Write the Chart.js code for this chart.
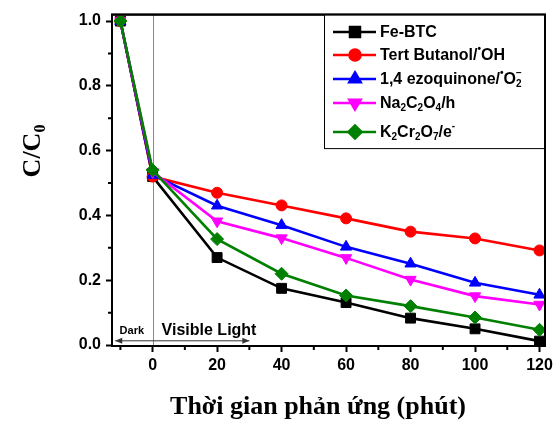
<!DOCTYPE html>
<html>
<head>
<meta charset="utf-8">
<script src="https://cdn.jsdelivr.net/npm/chart.js@4"></script>
<style>
  html, body { margin: 0; padding: 0; background: #fff; }
  canvas { display: block; }
</style>
</head>
<body>
<canvas id="chart" width="557" height="425"></canvas>
<script>
// reaction time (min); -10 is the dark adsorption step
const times = [-10, 0, 20, 40, 60, 80, 100, 120];

const feBtc        = [1.0, 0.52,  0.27,  0.175, 0.131, 0.083, 0.05,  0.012];
const tertButanol  = [1.0, 0.52,  0.47,  0.431, 0.391, 0.35,  0.329, 0.292];
const benzoquinone = [1.0, 0.525, 0.43,  0.37,  0.303, 0.251, 0.192, 0.155];
const oxalate      = [1.0, 0.535, 0.382, 0.33,  0.269, 0.202, 0.151, 0.125];
const dichromate   = [1.0, 0.54,  0.327, 0.22,  0.153, 0.12,  0.085, 0.047];

const xTickValues = [0, 20, 40, 60, 80, 100, 120];
const xMinorTicks = [-10, 10, 30, 50, 70, 90, 110];
const yTickValues = [0, 0.2, 0.4, 0.6, 0.8, 1.0];
const yMinorTicks = [0.1, 0.3, 0.5, 0.7, 0.9];

// legend labels as rich text pieces: [text, 'n' | 'sub' | 'sup']
const legendLabels = [
  [['Fe-BTC', 'n']],
  [['Tert Butanol/', 'n'], ['•', 'sup'], ['OH', 'n']],
  [['1,4 ezoquinone/', 'n'], ['•', 'sup'], ['O', 'n'], ['2', 'sub'], ['−', 'supback']],
  [['Na', 'n'], ['2', 'sub'], ['C', 'n'], ['2', 'sub'], ['O', 'n'], ['4', 'sub'], ['/h', 'n']],
  [['K', 'n'], ['2', 'sub'], ['Cr', 'n'], ['2', 'sub'], ['O', 'n'], ['7', 'sub'], ['/e', 'n'], ['-', 'sup']],
];

const COLORS = ['#000000', '#ff0000', '#0000ff', '#ff00ff', '#008000'];
const STYLES = [
  { pointStyle: 'rect',     radius: 7,   rotation: 0 },
  { pointStyle: 'circle',   radius: 5.5, rotation: 0 },
  { pointStyle: 'triangle', radius: 6.5, rotation: 0 },
  { pointStyle: 'triangle', radius: 6.5, rotation: 180 },
  { pointStyle: 'rectRot',  radius: 6.5, rotation: 0 },
];
const SANS = '"Liberation Sans", Arial, sans-serif';
const SERIF = '"Liberation Serif", "Times New Roman", serif';

const series = [feBtc, tertButanol, benzoquinone, oxalate, dichromate];

const datasets = series.map((vals, i) => ({
  label:            legendLabels[i].map(p => p[0]).join(''),
  data:             times.map((t, k) => ({ x: t, y: vals[k] })),
  borderColor:      COLORS[i],
  backgroundColor:  COLORS[i],
  borderWidth:      2.6,
  pointStyle:       STYLES[i].pointStyle,
  pointRadius:      STYLES[i].radius,
  pointRotation:    STYLES[i].rotation,
  pointBorderWidth: 1,
  tension:          0,
  order:            series.length - i,
}));

// ── rich text helper (subscripts / superscripts) ─────────────────────────
function drawRich(ctx, parts, x, y, size) {
  let lastW = 0;
  parts.forEach(([txt, kind]) => {
    const small = kind !== 'n';
    ctx.font = 'bold ' + (small ? Math.round(size * 0.62) : size) + 'px ' + SANS;
    let dy = 0, px = x;
    if (kind === 'sub') dy = size * 0.28;
    if (kind === 'sup') dy = -size * 0.42;
    if (kind === 'supback') { dy = -size * 0.42; px = x - lastW; }
    ctx.fillText(txt, px, y + dy);
    const w = ctx.measureText(txt).width;
    if (kind !== 'supback') { x += w; lastW = w; }
    else x = Math.max(x, px + w);
  });
}

const decor = {
  id: 'decor',
  beforeDatasetsDraw(chart) {
    const { ctx, chartArea: a, scales: { x, y } } = chart;
    ctx.save();
    // boundary between dark and light periods
    ctx.strokeStyle = '#8a8a8a';
    ctx.lineWidth = 1;
    ctx.beginPath();
    ctx.moveTo(Math.round(x.getPixelForValue(0)) + 0.5, a.top);
    ctx.lineTo(Math.round(x.getPixelForValue(0)) + 0.5, a.bottom);
    ctx.stroke();

    // frame
    ctx.strokeStyle = '#000';
    ctx.lineWidth = 2;
    ctx.strokeRect(a.left, a.top, a.right - a.left, a.bottom - a.top);

    // minor ticks
    ctx.beginPath();
    xMinorTicks.forEach(v => {
      const px = x.getPixelForValue(v);
      ctx.moveTo(px, a.bottom);
      ctx.lineTo(px, a.bottom + 4);
    });
    yMinorTicks.forEach(v => {
      const py = y.getPixelForValue(v);
      ctx.moveTo(a.left - 4, py);
      ctx.lineTo(a.left, py);
    });
    ctx.stroke();

    // Dark / Visible Light arrows
    const ay = y.getPixelForValue(0.013);
    const x0 = x.getPixelForValue(0);
    const xl = x.getPixelForValue(-11.6);
    const xr = x.getPixelForValue(30);
    ctx.strokeStyle = '#333';
    ctx.fillStyle = '#333';
    ctx.lineWidth = 1;
    ctx.beginPath();
    ctx.moveTo(xl, ay); ctx.lineTo(xr, ay);
    ctx.stroke();
    ctx.beginPath();
    ctx.moveTo(xl, ay); ctx.lineTo(xl + 7, ay - 3); ctx.lineTo(xl + 7, ay + 3); ctx.closePath();
    ctx.moveTo(xr, ay); ctx.lineTo(xr - 7, ay - 3); ctx.lineTo(xr - 7, ay + 3); ctx.closePath();
    ctx.fill();

    ctx.fillStyle = '#000';
    ctx.textBaseline = 'alphabetic';
    ctx.textAlign = 'left';
    ctx.font = 'bold 11px ' + SANS;
    ctx.fillText('Dark', x0 - 33, ay - 7);
    ctx.font = 'bold 16px ' + SANS;
    ctx.fillText('Visible Light', x0 + 9, ay - 6);
    ctx.restore();
  },
  afterDatasetsDraw(chart) {
    const { ctx, chartArea: a } = chart;
    ctx.save();

    // legend box
    const lx = 324, ly = a.top, lw = a.right - 324, lh = 134;
    ctx.fillStyle = '#fff';
    ctx.fillRect(lx, ly, lw, lh);
    ctx.strokeStyle = '#000';
    ctx.lineWidth = 1;
    ctx.strokeRect(lx + 0.5, ly, lw, lh);
    ctx.lineWidth = 2;
    ctx.strokeRect(a.left, a.top, a.right - a.left, a.bottom - a.top);

    const rowsY = [32, 55, 79, 103, 132];
    legendLabels.forEach((parts, i) => {
      const ry = rowsY[i];
      ctx.strokeStyle = COLORS[i];
      ctx.lineWidth = 2.6;
      ctx.beginPath();
      ctx.moveTo(333, ry); ctx.lineTo(376, ry);
      ctx.stroke();
      ctx.fillStyle = COLORS[i];
      Chart.helpers.drawPoint(ctx, {
        pointStyle: STYLES[i].pointStyle,
        rotation: STYLES[i].rotation,
        radius: STYLES[i].radius,
        borderWidth: 1,
      }, 355, ry);
      ctx.fillStyle = '#000';
      ctx.textBaseline = 'middle';
      ctx.textAlign = 'left';
      drawRich(ctx, parts, 380, ry + 1, 16);
    });

    // axis titles
    ctx.fillStyle = '#000';
    ctx.textBaseline = 'alphabetic';
    ctx.textAlign = 'center';
    ctx.font = 'bold 26px ' + SERIF;
    ctx.fillText('Thời gian phản ứng (phút)', 318, 414);

    ctx.translate(40, 151);
    ctx.rotate(-Math.PI / 2);
    ctx.textAlign = 'left';
    ctx.font = 'bold 26px ' + SERIF;
    const w1 = ctx.measureText('C/C').width;
    ctx.font = 'bold 16px ' + SERIF;
    const w2 = ctx.measureText('0').width;
    let sx = -(w1 + w2) / 2;
    ctx.font = 'bold 26px ' + SERIF;
    ctx.fillText('C/C', sx, 0);
    ctx.font = 'bold 16px ' + SERIF;
    ctx.fillText('0', sx + w1, 5);
    ctx.restore();
  },
};

new Chart(document.getElementById('chart'), {
  type: 'line',
  data: { datasets },
  plugins: [decor],
  options: {
    responsive: false,
    devicePixelRatio: 1,
    animation: false,
    layout: { padding: { left: 0, top: 12, right: 11, bottom: 0 } },
    plugins: { legend: { display: false }, tooltip: { enabled: false } },
    scales: {
      x: {
        type: 'linear',
        min: -12.6,
        max: 121.7,
        afterBuildTicks: (s) => { s.ticks = xTickValues.map(v => ({ value: v })); },
        afterFit: (s) => { s.height = 79; },
        ticks: {
          color: '#000',
          padding: 4,
          maxRotation: 0,
          font: { family: SANS, size: 16, weight: 'bold' },
          callback: (v) => String(v),
        },
        grid: { drawOnChartArea: false, drawTicks: true, tickLength: 6, tickWidth: 2, color: '#000' },
        border: { display: true, color: '#000', width: 2 },
      },
      y: {
        min: -0.003,
        max: 1.02,
        afterBuildTicks: (s) => { s.ticks = yTickValues.map(v => ({ value: v })); },
        afterFit: (s) => { s.width = 112; },
        ticks: {
          color: '#000',
          padding: 5,
          font: { family: SANS, size: 16, weight: 'bold' },
          callback: (v) => v.toFixed(1),
        },
        grid: { drawOnChartArea: false, drawTicks: true, tickLength: 6, tickWidth: 2, color: '#000' },
        border: { display: true, color: '#000', width: 2 },
      },
    },
  },
});
</script>
</body>
</html>
